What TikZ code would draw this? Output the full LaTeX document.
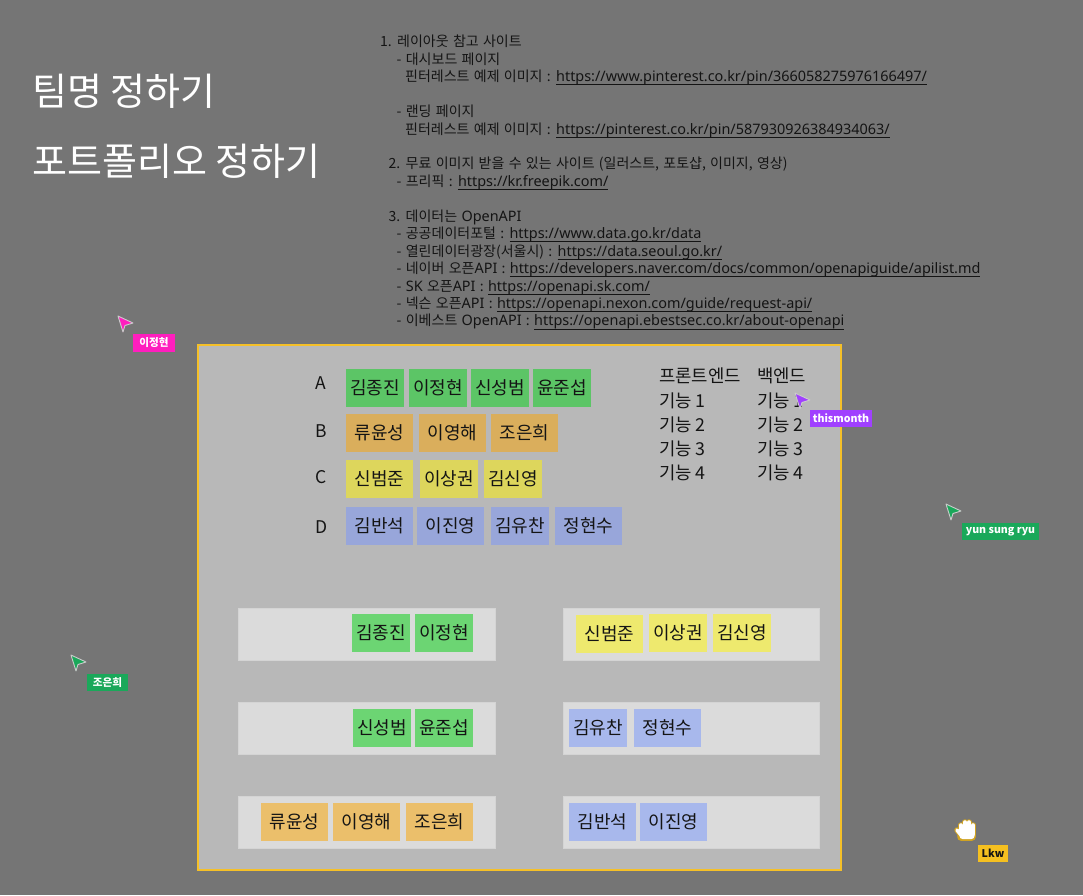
\documentclass[tikz,border=0pt]{standalone}
\usepackage{fontspec}
\setmainfont{Noto Sans CJK KR}
\newfontfamily\linkfont[Scale=1.03]{Noto Sans}
\definecolor{canvasgray}{RGB}{117, 117, 117}
\definecolor{framegray}{RGB}{184, 184, 184}
\definecolor{framegold}{RGB}{245, 192, 40}
\definecolor{stripgray}{RGB}{219, 219, 219}
\definecolor{inkdark}{RGB}{20, 20, 20}
\definecolor{teamA}{RGB}{92, 197, 102}
\definecolor{teamB}{RGB}{218, 174, 92}
\definecolor{teamC}{RGB}{221, 214, 92}
\definecolor{teamD}{RGB}{152, 166, 218}
\definecolor{pickA}{RGB}{108, 213, 115}
\definecolor{pickB}{RGB}{235, 191, 107}
\definecolor{pickC}{RGB}{238, 233, 110}
\definecolor{pickD}{RGB}{168, 184, 236}
\definecolor{cursorpink}{RGB}{255, 30, 190}
\definecolor{cursorgreen}{RGB}{26, 168, 90}
\definecolor{cursorpurple}{RGB}{160, 64, 255}
\definecolor{cursorgold}{RGB}{245, 192, 32}
\newsavebox{\linkbox}
\newcommand{\linkurl}[1]{\sbox{\linkbox}{\linkfont #1}\rlap{\rule[-3.6pt]{\wd\linkbox}{0.9pt}}\usebox{\linkbox}}
\newcommand{\notefont}{\fontsize{14}{17.44}\selectfont\spaceskip=4.3pt\relax}

\begin{document}
\begin{tikzpicture}[
  x=1pt, y=-1pt,
  namebox/.style={anchor=north west, inner sep=0pt, minimum height=38pt, text height=14pt, text depth=1pt, text=inkdark, font=\fontsize{18}{20}\selectfont},
  slim/.style={namebox, minimum width=58pt},
  wide/.style={namebox, minimum width=67pt},
  headtext/.style={anchor=west, inner sep=0pt, text=white, font=\fontsize{38}{40}\selectfont},
  rowlabel/.style={inner sep=0pt, text=inkdark, font=\fontsize{17.5}{20}\selectfont},
  listtext/.style={anchor=west, inner sep=0pt, text=inkdark, font=\fontsize{17.8}{20}\selectfont},
  striprow/.style={fill=stripgray, draw=stripgray!97!black, line width=0.5pt},
  cursortag/.style={inner sep=0pt, font=\fontsize{10.6}{12}\selectfont\bfseries, text=white},
  pics/cursorarrow/.style={code={
    \filldraw[draw=white!60!gray, line width=0.9pt, line join=round, fill=#1] (0,0) -- (15,7) -- (7,9.5) -- (5,16) -- cycle;
  }}
]
  \useasboundingbox[fill=canvasgray] (0,0) rectangle (1083,895);

  \node[headtext] (teamhead) at (32,91) {팀명 정하기};
  \node[headtext] (folihead) at (32,161) {포트폴리오 정하기};

  \node[anchor=north west, inner sep=0pt, align=left, text=inkdark, font=\notefont] (notes) at (380,35) {
    1. 레이아웃 참고 사이트\\
    \hspace*{16.5pt}- 대시보드 페이지\\
    \hspace*{25pt}핀터레스트 예제 이미지 : \linkurl{https://www.pinterest.co.kr/pin/366058275976166497/}\\
    \mbox{}\\
    \hspace*{16.5pt}- 랜딩 페이지\\
    \hspace*{25pt}핀터레스트 예제 이미지 : \linkurl{https://pinterest.co.kr/pin/587930926384934063/}\\
    \mbox{}\\
    \hspace*{8.5pt}2. 무료 이미지 받을 수 있는 사이트 (일러스트, 포토샵, 이미지, 영상)\\
    \hspace*{16.5pt}- 프리픽 : \linkurl{https://kr.freepik.com/}\\
    \mbox{}\\
    \hspace*{8.5pt}3. 데이터는 {\linkfont OpenAPI}\\
    \hspace*{16.5pt}- 공공데이터포털 : \linkurl{https://www.data.go.kr/data}\\
    \hspace*{16.5pt}- 열린데이터광장(서울시) : \linkurl{https://data.seoul.go.kr/}\\
    \hspace*{16.5pt}- 네이버 오픈{\linkfont API} : \linkurl{https://developers.naver.com/docs/common/openapiguide/apilist.md}\\
    \hspace*{16.5pt}- {\linkfont SK} 오픈{\linkfont API} : \linkurl{https://openapi.sk.com/}\\
    \hspace*{16.5pt}- 넥슨 오픈{\linkfont API} : \linkurl{https://openapi.nexon.com/guide/request-api/}\\
    \hspace*{16.5pt}- 이베스트 {\linkfont OpenAPI} : \linkurl{https://openapi.ebestsec.co.kr/about-openapi}
  };

  \draw[fill=framegray, draw=framegold, line width=2.4pt] (198,345) rectangle (841,870);

  % team rows
  \node[rowlabel] (labelA) at (321,383) {A};
  \node[rowlabel] (labelB) at (321,431) {B};
  \node[rowlabel] (labelC) at (321,477) {C};
  \node[rowlabel] (labelD) at (322,527) {D};

  \node[slim, fill=teamA] (jongjin) at (346,369) {김종진};
  \node[slim, fill=teamA] (jeonghyeon) at (409,369) {이정현};
  \node[slim, fill=teamA] (seongbeom) at (471,369) {신성범};
  \node[slim, fill=teamA] (junseop) at (533,369) {윤준섭};

  \node[wide, fill=teamB] (yunseong) at (346,414) {류윤성};
  \node[wide, fill=teamB] (yeonghae) at (419,414) {이영해};
  \node[wide, fill=teamB] (eunhui) at (491,414) {조은희};

  \node[wide, fill=teamC] (beomjun) at (346,460) {신범준};
  \node[slim, fill=teamC] (sanggwon) at (420,460) {이상권};
  \node[slim, fill=teamC] (sinyeong) at (484,460) {김신영};

  \node[wide, fill=teamD] (banseok) at (346,507) {김반석};
  \node[wide, fill=teamD] (jinyeong) at (417,507) {이진영};
  \node[slim, fill=teamD] (yuchan) at (491,507) {김유찬};
  \node[wide, fill=teamD] (hyeonsu) at (555,507) {정현수};

  % feature lists
  \node[listtext] (fronthead) at (659,376) {프론트엔드};
  \node[listtext] (frontone) at (659,401) {기능 1};
  \node[listtext] (fronttwo) at (659,425) {기능 2};
  \node[listtext] (frontthree) at (659,449) {기능 3};
  \node[listtext] (frontfour) at (659,473) {기능 4};
  \node[listtext] (backhead) at (757,376) {백엔드};
  \node[listtext] (backone) at (757,401) {기능 1};
  \node[listtext] (backtwo) at (757,425) {기능 2};
  \node[listtext] (backthree) at (757,449) {기능 3};
  \node[listtext] (backfour) at (757,473) {기능 4};

  % picked pairs
  \draw[striprow] (238,608) rectangle (495,660);
  \draw[striprow] (238,702) rectangle (495,754);
  \draw[striprow] (238,796) rectangle (495,848);
  \draw[striprow] (563,608) rectangle (819,660);
  \draw[striprow] (563,702) rectangle (819,754);
  \draw[striprow] (563,796) rectangle (819,848);

  \node[slim, fill=pickA] (pickjongjin) at (352,614) {김종진};
  \node[slim, fill=pickA] (pickjeonghyeon) at (415,614) {이정현};
  \node[slim, fill=pickA] (pickseongbeom) at (353,709) {신성범};
  \node[slim, fill=pickA] (pickjunseop) at (415,709) {윤준섭};
  \node[wide, fill=pickB] (pickyunseong) at (261,803) {류윤성};
  \node[wide, fill=pickB] (pickyeonghae) at (333,803) {이영해};
  \node[wide, fill=pickB] (pickeunhui) at (406,803) {조은희};

  \node[wide, fill=pickC] (pickbeomjun) at (576,615) {신범준};
  \node[slim, fill=pickC] (picksanggwon) at (649,614) {이상권};
  \node[slim, fill=pickC] (picksinyeong) at (713,614) {김신영};
  \node[slim, fill=pickD] (pickyuchan) at (569,709) {김유찬};
  \node[wide, fill=pickD] (pickhyeonsu) at (634,709) {정현수};
  \node[wide, fill=pickD] (pickbanseok) at (569,803) {김반석};
  \node[wide, fill=pickD] (pickjinyeong) at (640,803) {이진영};

  % other people's cursors
  \pic (cursorone) at (118,316) {cursorarrow=cursorpink};
  \node[cursortag, fill=cursorpink, minimum width=42pt, minimum height=18pt] (tagone) at (154,343) {이정현};
  \pic (cursortwo) at (946,504) {cursorarrow=cursorgreen};
  \node[cursortag, fill=cursorgreen, minimum width=77pt, minimum height=17pt] (tagtwo) at (1000.5,531.5) {yun sung ryu};
  \pic (cursorthree) at (71,655) {cursorarrow=cursorgreen};
  \node[cursortag, fill=cursorgreen, minimum width=41pt, minimum height=17pt] (tagthree) at (107.5,682.5) {조은희};
  \pic (cursorfour) at (795,393) {cursorarrow=cursorpurple};
  \node[cursortag, fill=cursorpurple, minimum width=62pt, minimum height=17pt] (tagfour) at (841,418.5) {thismonth};

  % grabbing hand
  \foreach \fx/\ftop in {961/825, 965/822, 969/822, 973/825} {
    \draw[framegold!85!black, line width=5.5pt, line cap=round] (\fx,834) -- (\fx,\ftop);
  }
  \draw[framegold!85!black, line width=5.5pt, line cap=round] (961,835) -- (957,830);
  \draw[framegold!85!black, fill=framegold!85!black, rounded corners=3pt, line width=1.5pt] (958,830) rectangle (975,840);
  \foreach \fx/\ftop in {961/825, 965/822, 969/822, 973/825} {
    \draw[white, line width=3.6pt, line cap=round] (\fx,834) -- (\fx,\ftop);
  }
  \draw[white, line width=3.6pt, line cap=round] (961,835) -- (957,830);
  \fill[white, rounded corners=3pt] (959.5,829) rectangle (974.5,839);
  \node[cursortag, fill=cursorgold, text=inkdark, minimum width=30pt, minimum height=17pt] (tagfive) at (993,853.5) {Lkw};
\end{tikzpicture}
\end{document}
